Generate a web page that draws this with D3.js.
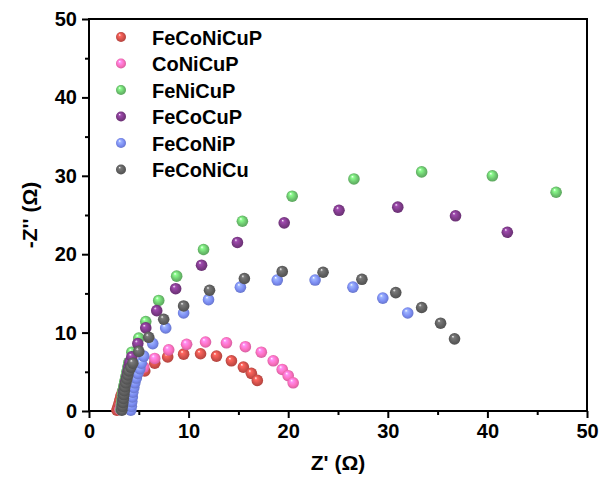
<!doctype html>
<html lang="en">
<head>
    <meta charset="utf-8">
    <title>Nyquist plot</title>
    <script src="https://d3js.org/d3.v7.min.js"></script>
    <style>
        body { margin: 0; background: #fff; }
        text { font-family: Arial, "Liberation Sans", sans-serif; font-weight: bold; }
    </style>
</head>
<body>
    <div id="my_dataviz"></div>

    <script>
        // data: [Z', -Z''] in ohm
        var seriesNames = ["FeCoNiCuP", "CoNiCuP", "FeNiCuP", "FeCoCuP", "FeCoNiP", "FeCoNiCu"]
        var seriesColors = ["#d2504a", "#fb6fbd", "#6cc46e", "#7d3a88", "#7b8cf2", "#5f5f5f"]

        var feCoNiCuP = [[2.8, 0.1], [2.9, 0.5], [3.0, 0.9], [3.1, 1.4], [3.2, 1.9], [3.35, 2.4], [3.5, 2.9],
            [3.7, 3.4], [3.95, 3.9], [4.3, 4.4], [4.8, 4.9], [5.6, 5.1], [6.6, 6.1], [7.9, 6.9], [9.5, 7.25],
            [11.2, 7.3], [12.8, 7.0], [14.3, 6.4], [15.5, 5.6], [16.3, 4.8], [16.9, 3.9]]
        var coNiCuP = [[3.1, 0.2], [3.2, 0.8], [3.35, 1.4], [3.5, 2.0], [3.7, 2.6], [3.9, 3.2], [4.2, 3.8],
            [4.6, 4.4], [5.0, 5.0], [5.5, 5.6], [6.6, 6.7], [8.0, 7.8], [9.8, 8.5], [11.7, 8.8], [13.8, 8.7],
            [15.7, 8.2], [17.3, 7.5], [18.5, 6.4], [19.4, 5.3], [20.0, 4.5], [20.5, 3.6]]
        var feNiCuP = [[3.2, 0.2], [3.25, 0.8], [3.3, 1.4], [3.35, 2.0], [3.4, 2.6], [3.5, 3.2], [3.6, 3.8],
            [3.7, 4.4], [3.8, 5.0], [3.9, 5.6], [4.0, 6.2], [4.3, 7.5], [5.0, 9.3], [5.7, 11.4], [7.0, 14.1],
            [8.8, 17.2], [11.5, 20.6], [15.4, 24.2], [20.4, 27.4], [26.6, 29.6], [33.4, 30.5], [40.5, 30.0],
            [46.9, 27.9]]
        var feCoCuP = [[3.3, 0.2], [3.35, 0.8], [3.4, 1.4], [3.45, 2.0], [3.5, 2.6], [3.6, 3.2], [3.7, 3.8],
            [3.8, 4.4], [3.9, 5.0], [4.0, 5.6], [4.1, 6.2], [4.3, 6.9], [4.9, 8.6], [5.7, 10.6], [6.8, 12.8],
            [8.7, 15.6], [11.3, 18.6], [14.9, 21.5], [19.6, 24.0], [25.1, 25.6], [31.0, 26.0], [36.8, 24.9],
            [42.0, 22.8]]
        var feCoNiP = [[4.2, 0.1], [4.25, 0.6], [4.3, 1.2], [4.35, 1.8], [4.4, 2.4], [4.5, 3.0], [4.6, 3.6],
            [4.75, 4.2], [4.9, 4.8], [5.1, 5.4], [5.25, 6.1], [5.5, 7.0], [6.4, 8.6], [7.7, 10.6], [9.5, 12.5],
            [12.0, 14.2], [15.2, 15.8], [18.9, 16.7], [22.7, 16.7], [26.5, 15.8], [29.5, 14.4], [32.0, 12.5]]
        var feCoNiCu = [[3.3, 0.1], [3.35, 0.6], [3.4, 1.1], [3.45, 1.6], [3.5, 2.1], [3.55, 2.6], [3.6, 3.1],
            [3.7, 3.6], [3.8, 4.1], [3.9, 4.6], [4.0, 5.1], [4.2, 5.6], [4.4, 6.1], [5.0, 7.6], [6.0, 9.4],
            [7.5, 11.7], [9.5, 13.4], [12.1, 15.4], [15.6, 16.9], [19.4, 17.8], [23.5, 17.7], [27.4, 16.8],
            [30.8, 15.1], [33.4, 13.2], [35.3, 11.2], [36.7, 9.2]]

        var allSeries = [feCoNiCuP, coNiCuP, feNiCuP, feCoCuP, feCoNiP, feCoNiCu]

        var majorTicks = [0, 10, 20, 30, 40, 50]
        var minorTicks = [5, 15, 25, 35, 45]

        // set the dimensions (plot box in pixels)
        var width = 605
        var height = 484
        var plotLeft = 89, plotRight = 587, plotTop = 19, plotBottom = 411

        var svg = d3.select("#my_dataviz")
            .append("svg")
            .attr("width", width)
            .attr("height", height)

        var x = d3.scaleLinear().domain([0, 50]).range([plotLeft, plotRight])
        var y = d3.scaleLinear().domain([0, 50]).range([plotBottom, plotTop])

        // sphere look for the markers
        var defs = svg.append("defs")
        seriesColors.forEach(function (c, i) {
            var base = d3.color(c)
            var g = defs.append("radialGradient")
                .attr("id", "ball" + i)
                .attr("cx", "50%").attr("cy", "50%").attr("r", "55%")
                .attr("fx", "35%").attr("fy", "28%")
            g.append("stop").attr("offset", "0%").attr("stop-color", "#ffffff")
            g.append("stop").attr("offset", "22%").attr("stop-color", base.brighter(0.7).formatHex())
            g.append("stop").attr("offset", "65%").attr("stop-color", base.formatHex())
            g.append("stop").attr("offset", "100%").attr("stop-color", base.darker(0.6).formatHex())
        })

        // axes
        var xAxis = svg.append("g")
            .attr("transform", "translate(0," + plotBottom + ")")
            .call(d3.axisBottom(x).tickValues(majorTicks).tickSize(7).tickPadding(6).tickFormat(d3.format("d")))
        var xMinor = svg.append("g")
            .attr("transform", "translate(0," + plotBottom + ")")
            .call(d3.axisBottom(x).tickValues(minorTicks).tickSize(4).tickFormat(""))
        var yAxis = svg.append("g")
            .attr("transform", "translate(" + plotLeft + ",0)")
            .call(d3.axisLeft(y).tickValues(majorTicks).tickSize(7).tickPadding(5).tickFormat(d3.format("d")))
        var yMinor = svg.append("g")
            .attr("transform", "translate(" + plotLeft + ",0)")
            .call(d3.axisLeft(y).tickValues(minorTicks).tickSize(4).tickFormat(""))

        ;[xAxis, xMinor, yAxis, yMinor].forEach(function (a) {
            a.select(".domain").remove()
            a.selectAll("line").attr("stroke", "#000").attr("stroke-width", 2)
            a.selectAll("text").attr("fill", "#000").style("font-size", "20px")
        })

        // frame
        svg.append("rect")
            .attr("x", plotLeft).attr("y", plotTop)
            .attr("width", plotRight - plotLeft).attr("height", plotBottom - plotTop)
            .attr("fill", "none").attr("stroke", "#000").attr("stroke-width", 2)

        // axis titles
        svg.append("text")
            .attr("x", (plotLeft + plotRight) / 2).attr("y", 470)
            .attr("text-anchor", "middle")
            .style("font-size", "21px")
            .text("Z' (\u03a9)")
        svg.append("text")
            .attr("transform", "translate(37," + (plotTop + plotBottom) / 2 + ") rotate(-90)")
            .attr("text-anchor", "middle")
            .style("font-size", "21px")
            .text("-Z'' (\u03a9)")

        // points, legend order so the later series sit on top
        allSeries.forEach(function (data, i) {
            svg.append("g")
                .selectAll("circle")
                .data(data)
                .enter()
                .append("circle")
                .attr("cx", function (d) { return x(d[0]) })
                .attr("cy", function (d) { return y(d[1]) })
                .attr("r", 5.8)
                .attr("fill", "url(#ball" + i + ")")
        })

        // legend
        var legend = svg.append("g")
        seriesNames.forEach(function (name, i) {
            var cy = 37 + i * 26.5
            legend.append("circle")
                .attr("cx", 121).attr("cy", cy).attr("r", 5)
                .attr("fill", "url(#ball" + i + ")")
            legend.append("text")
                .attr("x", 152).attr("y", cy + 7.5)
                .style("font-size", "20px")
                .text(name)
        })
    </script>
</body>
</html>
